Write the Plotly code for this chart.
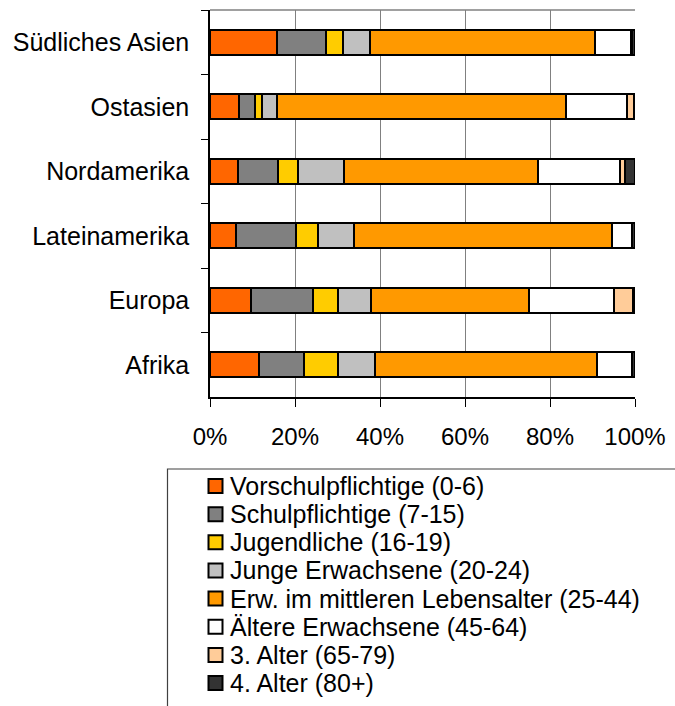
import plotly.graph_objects as go

# Regions, listed top to bottom
regions = ["Südliches Asien", "Ostasien", "Nordamerika", "Lateinamerika", "Europa", "Afrika"]

# Share of each age group per region (%)
vorschul = [15.8, 6.9, 6.5, 6.0, 9.6, 11.6]
schul = [11.4, 3.7, 9.4, 14.2, 14.7, 10.5]
jugend = [4.1, 1.7, 4.7, 5.2, 5.8, 8.0]
junge_erw = [6.3, 3.5, 10.9, 8.4, 7.7, 8.7]
mittlere = [53.1, 68.0, 45.6, 60.7, 37.2, 52.3]
aeltere = [8.3, 14.3, 19.4, 4.7, 20.1, 8.1]
drittes = [0.4, 1.6, 1.2, 0.2, 4.4, 0.2]
viertes = [0.6, 0.3, 2.3, 0.6, 0.5, 0.6]

group_names = [
    "Vorschulpflichtige (0-6)",
    "Schulpflichtige (7-15)",
    "Jugendliche (16-19)",
    "Junge Erwachsene (20-24)",
    "Erw. im mittleren Lebensalter (25-44)",
    "Ältere Erwachsene (45-64)",
    "3. Alter (65-79)",
    "4. Alter (80+)",
]
group_values = [vorschul, schul, jugend, junge_erw, mittlere, aeltere, drittes, viertes]
group_colors = ["#FF6600", "#808080", "#FFCC00", "#C0C0C0",
                "#FF9900", "#FFFFFF", "#FFCC99", "#333333"]

xticks = [0, 20, 40, 60, 80, 100]
xticklabels = ["0%", "20%", "40%", "60%", "80%", "100%"]

font = "Liberation Sans, Arial, sans-serif"
fsize = 25
W, H = 675, 706
ml, mr, mt, mb = 210, 40, 10, 309
pw, ph = W - ml - mr, H - mt - mb


def px_x(p):
    return (p - ml) / pw


def px_y(p):
    return 1 - (p - mt) / ph


fig = go.Figure()
for name, vals, color in zip(group_names, group_values, group_colors):
    fig.add_trace(go.Bar(
        y=regions, x=vals, name=name, orientation="h",
        marker=dict(color=color, line=dict(color="#000000", width=2)),
        showlegend=False,
    ))

# Legend drawn as a boxed list: a swatch plus a text label per age group
shapes = [
    # thin grey frame along the top of the plot area
    dict(type="line", xref="paper", yref="paper", x0=0, x1=1, y0=1, y1=1,
         line=dict(color="#808080", width=1.5)),
    # legend frame, running off the right and bottom edge of the page
    dict(type="rect", xref="paper", yref="paper",
         x0=px_x(167.5), x1=px_x(690), y0=px_y(469), y1=px_y(720),
         line=dict(color="#404040", width=1.2), fillcolor="rgba(0,0,0,0)",
         layer="below"),
]
annotations = []
leg_top, leg_step, sw = 486.0, 28.15, 14
for i, (name, color) in enumerate(zip(group_names, group_colors)):
    cy = leg_top + i * leg_step
    shapes.append(dict(
        type="rect", xref="paper", yref="paper",
        x0=px_x(208.5), x1=px_x(208.5 + sw),
        y0=px_y(cy + sw / 2), y1=px_y(cy - sw / 2),
        fillcolor=color, line=dict(color="#000000", width=2),
    ))
    annotations.append(dict(
        text=name, xref="paper", yref="paper",
        x=px_x(228), y=px_y(cy), xanchor="left", yanchor="middle",
        showarrow=False, font=dict(family=font, size=fsize, color="#000000"),
    ))

fig.update_layout(
    width=W, height=H,
    margin=dict(l=ml, r=mr, t=mt, b=mb, autoexpand=False),
    barmode="stack", bargap=0.61,
    paper_bgcolor="white", plot_bgcolor="white",
    font=dict(family=font, size=fsize, color="#000000"),
    showlegend=False,
    xaxis=dict(
        range=[0, 100], tickvals=xticks, ticktext=xticklabels,
        tickfont=dict(size=24),
        showgrid=True, gridcolor="#808080", gridwidth=1,
        showline=True, linecolor="#000000", linewidth=1.5,
        ticks="outside", ticklen=8, tickcolor="#000000", tickwidth=1,
        ticklabelstandoff=9, zeroline=False, fixedrange=True,
    ),
    yaxis=dict(
        categoryorder="array", categoryarray=regions, autorange="reversed",
        showgrid=False, showline=True, linecolor="#000000", linewidth=1.5,
        ticks="outside", tickson="boundaries", ticklen=7,
        tickcolor="#000000", tickwidth=1,
        ticklabelstandoff=14, fixedrange=True,
    ),
    shapes=shapes,
    annotations=annotations,
)

fig.write_html("out.html", config={"displayModeBar": False})
